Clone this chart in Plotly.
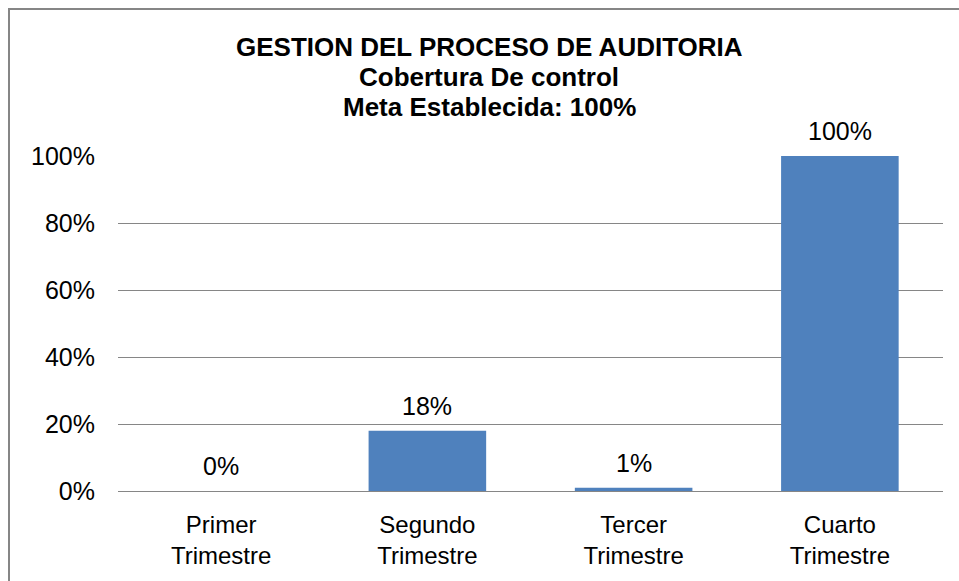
import plotly.graph_objects as go

categories = ["Primer<br>Trimestre", "Segundo<br>Trimestre", "Tercer<br>Trimestre", "Cuarto<br>Trimestre"]
values = [0.0, 0.18, 0.01, 1.0]
tick_vals = [0, 0.2, 0.4, 0.6, 0.8, 1.0]
tick_text = ["0%", "20%", "40%", "60%", "80%", "100%"]
title_lines = ["GESTION DEL PROCESO DE AUDITORIA", "Cobertura De control", "Meta Establecida: 100%"]

FONT = "Liberation Sans, Arial, sans-serif"
W, H = 959, 581
L, R, T, B = 118, 16, 156, 90
pw, ph = W - L - R, H - T - B

def px_x(x):
    return (x - L) / pw

def px_y(y):
    return (H - B - y) / ph

fig = go.Figure()
fig.add_trace(go.Bar(
    x=categories, y=values,
    marker=dict(color="#4F81BD", line=dict(width=0)),
    width=0.57,
    hoverinfo="skip",
))

annotations = []
for c, v in zip(categories, values):
    annotations.append(dict(
        x=c, y=v, xref="x", yref="y", text=f"{round(v*100)}%",
        showarrow=False, yanchor="middle", yshift=25,
        font=dict(family=FONT, size=25, color="#000000"),
    ))
for i, line in enumerate(title_lines):
    annotations.append(dict(
        x=px_x(489), y=px_y(47 + 30 * i), xref="paper", yref="paper",
        text=f"<b>{line}</b>", showarrow=False, xanchor="center", yanchor="middle",
        font=dict(family=FONT, size=26, color="#000000"),
    ))

fig.update_layout(
    width=W, height=H,
    margin=dict(l=L, r=R, t=T, b=B, pad=0),
    paper_bgcolor="white", plot_bgcolor="white",
    showlegend=False,
    annotations=annotations,
    shapes=[dict(type="rect", xref="paper", yref="paper",
                 x0=px_x(9), x1=px_x(1100), y0=px_y(800), y1=px_y(9),
                 line=dict(color="#868686", width=2), fillcolor="rgba(0,0,0,0)", layer="below")],
    xaxis=dict(
        showgrid=False, zeroline=False, showline=False,
        tickfont=dict(family=FONT, size=24, color="#000000"),
        ticks="", ticklabelstandoff=17,
        range=[-0.5, 3.5],
    ),
    yaxis=dict(
        range=[0, 1], tickvals=tick_vals, ticktext=tick_text,
        showgrid=True, gridcolor="#868686", gridwidth=1,
        zeroline=True, zerolinecolor="#868686", zerolinewidth=1,
        showline=False, ticks="", ticklabelstandoff=22,
        tickfont=dict(family=FONT, size=25, color="#000000"),
    ),
)

fig.write_html(
    "out.html",
    config={"displayModeBar": False},
    post_script="document.body.style.margin='0';document.body.style.overflow='hidden';",
)
